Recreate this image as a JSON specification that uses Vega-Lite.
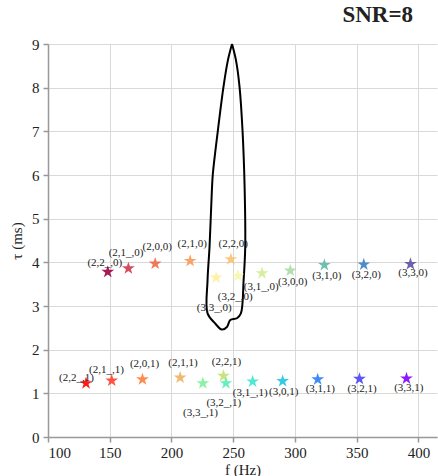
{
  "$schema": "https://vega.github.io/schema/vega-lite/v6.json",
  "width": 389,
  "height": 393,
  "autosize": {"type": "none"},
  "padding": {"left": 48, "top": 44, "right": 1, "bottom": 39},
  "background": "white",
  "config": {
    "font": "Liberation Serif",
    "view": {"stroke": null},
    "axis": {
      "domainColor": "#999999",
      "domainWidth": 1.5,
      "tickColor": "#999999",
      "tickWidth": 1.5,
      "tickSize": 5,
      "gridColor": "#d9d9d9",
      "gridWidth": 1,
      "labelFont": "Liberation Serif",
      "labelFontSize": 15,
      "labelColor": "#222222",
      "titleFont": "Liberation Serif",
      "titleFontSize": 15,
      "titleFontWeight": "normal",
      "titleColor": "#222222"
    }
  },
  "title": {
    "text": "SNR=8",
    "anchor": "end",
    "dx": -24,
    "offset": 10,
    "font": "Liberation Serif",
    "fontSize": 23,
    "fontWeight": "bold",
    "color": "#222222"
  },
  "datasets": {
    "pts": [
      {"id": "(2,2_,0)", "f": 148.4, "tau": 3.78, "lf": 146.0, "lt": 3.98},
      {"id": "(2,1_,0)", "f": 165.1, "tau": 3.86, "lf": 163.2, "lt": 4.21},
      {"id": "(2,0,0)", "f": 186.8, "tau": 3.97, "lf": 188.4, "lt": 4.34},
      {"id": "(2,1,0)", "f": 215.1, "tau": 4.03, "lf": 216.8, "lt": 4.42},
      {"id": "(2,2,0)", "f": 248.1, "tau": 4.07, "lf": 250.0, "lt": 4.42},
      {"id": "(3,3_,0)", "f": 236.2, "tau": 3.65, "lf": 234.6, "lt": 2.95},
      {"id": "(3,2_,0)", "f": 253.8, "tau": 3.69, "lf": 251.6, "lt": 3.2},
      {"id": "(3,1_,0)", "f": 273.3, "tau": 3.75, "lf": 272.7, "lt": 3.44},
      {"id": "(3,0,0)", "f": 296.2, "tau": 3.81, "lf": 298.2, "lt": 3.55},
      {"id": "(3,1,0)", "f": 323.8, "tau": 3.94, "lf": 325.8, "lt": 3.68},
      {"id": "(3,2,0)", "f": 355.7, "tau": 3.95, "lf": 357.8, "lt": 3.71},
      {"id": "(3,3,0)", "f": 393.5, "tau": 3.96, "lf": 395.5, "lt": 3.75},
      {"id": "(2,2_,1)", "f": 130.8, "tau": 1.23, "lf": 123.1, "lt": 1.36},
      {"id": "(2,1_,1)", "f": 151.6, "tau": 1.29, "lf": 147.3, "lt": 1.53},
      {"id": "(2,0,1)", "f": 176.5, "tau": 1.32, "lf": 178.2, "lt": 1.67},
      {"id": "(2,1,1)", "f": 207.0, "tau": 1.36, "lf": 209.3, "lt": 1.7},
      {"id": "(2,2,1)", "f": 242.1, "tau": 1.4, "lf": 244.5, "lt": 1.72},
      {"id": "(3,3_,1)", "f": 225.4, "tau": 1.23, "lf": 223.5, "lt": 0.56},
      {"id": "(3,2_,1)", "f": 244.1, "tau": 1.23, "lf": 242.4, "lt": 0.77},
      {"id": "(3,1_,1)", "f": 265.7, "tau": 1.27, "lf": 263.8, "lt": 1.0},
      {"id": "(3,0,1)", "f": 290.0, "tau": 1.28, "lf": 290.8, "lt": 1.04},
      {"id": "(3,1,1)", "f": 318.4, "tau": 1.32, "lf": 320.5, "lt": 1.09},
      {"id": "(3,2,1)", "f": 352.2, "tau": 1.33, "lf": 354.3, "lt": 1.11},
      {"id": "(3,3,1)", "f": 390.3, "tau": 1.34, "lf": 392.2, "lt": 1.12}
    ],
    "contour": [
      {"o": 1, "f": 249.0, "tau": 9.0},
      {"o": 2, "f": 252.2, "tau": 8.63},
      {"o": 3, "f": 255.1, "tau": 8.02},
      {"o": 4, "f": 257.5, "tau": 7.03},
      {"o": 5, "f": 259.2, "tau": 5.73},
      {"o": 6, "f": 259.7, "tau": 4.35},
      {"o": 7, "f": 258.4, "tau": 3.59},
      {"o": 8, "f": 256.2, "tau": 2.83},
      {"o": 9, "f": 253.0, "tau": 2.72},
      {"o": 10, "f": 247.6, "tau": 2.68},
      {"o": 11, "f": 244.9, "tau": 2.52},
      {"o": 12, "f": 240.8, "tau": 2.46},
      {"o": 13, "f": 235.4, "tau": 2.6},
      {"o": 14, "f": 229.2, "tau": 2.83},
      {"o": 15, "f": 229.2, "tau": 3.59},
      {"o": 16, "f": 230.8, "tau": 4.35},
      {"o": 17, "f": 232.7, "tau": 5.65},
      {"o": 18, "f": 233.5, "tau": 6.03},
      {"o": 19, "f": 237.6, "tau": 7.03},
      {"o": 20, "f": 242.1, "tau": 8.02},
      {"o": 21, "f": 245.7, "tau": 8.63},
      {"o": 22, "f": 249.0, "tau": 9.0}
    ]
  },
  "layer": [
    {
      "data": {"name": "contour"},
      "mark": {"type": "line", "color": "#000000", "strokeWidth": 2, "interpolate": "catmull-rom"},
      "encoding": {
        "x": {
          "field": "f", "type": "quantitative",
          "scale": {"domain": [100, 415], "nice": false, "zero": false},
          "axis": {"values": [100, 150, 200, 250, 300, 350, 400], "title": "f (Hz)", "labelPadding": 3, "titlePadding": 2, "grid": true}
        },
        "y": {
          "field": "tau", "type": "quantitative",
          "scale": {"domain": [0, 9], "nice": false},
          "axis": {"values": [0, 1, 2, 3, 4, 5, 6, 7, 8, 9], "title": "τ (ms)", "labelPadding": 4, "titlePadding": 7, "grid": true}
        },
        "order": {"field": "o", "type": "quantitative"}
      }
    },
    {
      "data": {"name": "pts"},
      "mark": {
        "type": "point",
        "filled": true,
        "opacity": 0.9,
        "size": 180,
        "shape": "M0,-1L0.225,-0.309L0.951,-0.309L0.363,0.118L0.588,0.809L0,0.382L-0.588,0.809L-0.363,0.118L-0.951,-0.309L-0.225,-0.309Z"
      },
      "encoding": {
        "x": {"field": "f", "type": "quantitative"},
        "y": {"field": "tau", "type": "quantitative"},
        "color": {
          "field": "id", "type": "nominal", "legend": null,
          "scale": {
            "domain": ["(2,2_,0)", "(2,1_,0)", "(2,0,0)", "(2,1,0)", "(2,2,0)", "(3,3_,0)", "(3,2_,0)", "(3,1_,0)", "(3,0,0)", "(3,1,0)", "(3,2,0)", "(3,3,0)",
                       "(2,2_,1)", "(2,1_,1)", "(2,0,1)", "(2,1,1)", "(2,2,1)", "(3,3_,1)", "(3,2_,1)", "(3,1_,1)", "(3,0,1)", "(3,1,1)", "(3,2,1)", "(3,3,1)"],
            "range": ["#9e0142", "#d03a4b", "#ee6a45", "#f89a55", "#fbc070", "#fdf0a0", "#f4f8a8", "#d2ec94", "#a8dca4", "#5fb8a8", "#3a80c0", "#5e4fa2",
                      "#ff0000", "#ff3f2a", "#ff7f3c", "#f0b060", "#c4e070", "#80f09a", "#55f0b5", "#3ce6d0", "#20c4e8", "#2a80f8", "#4a40f8", "#8000ff"]
          }
        }
      }
    },
    {
      "data": {"name": "pts"},
      "mark": {"type": "text", "font": "Liberation Serif", "fontSize": 11, "color": "#222222", "align": "center", "baseline": "middle"},
      "encoding": {
        "x": {"field": "lf", "type": "quantitative"},
        "y": {"field": "lt", "type": "quantitative"},
        "text": {"field": "id", "type": "nominal"}
      }
    }
  ]
}
